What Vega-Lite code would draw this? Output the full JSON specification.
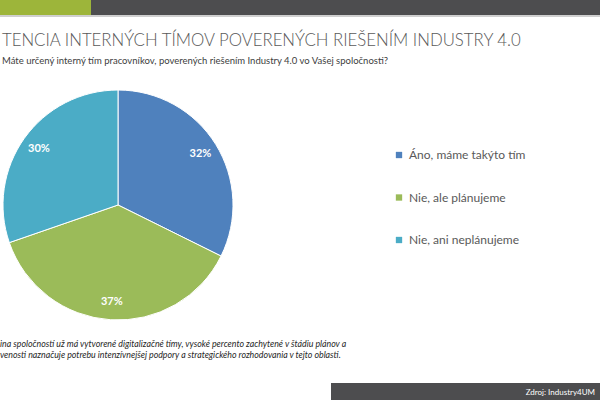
{
  "$schema": "https://vega.github.io/schema/vega-lite/v6.json",
  "width": 600,
  "height": 400,
  "autosize": {"type": "fit", "contains": "padding"},
  "padding": 0,
  "background": "white",
  "config": {"view": {"stroke": null}, "font": "Lato"},
  "datasets": {
    "pie": [
      {"odpoved": "Áno, máme takýto tím", "podiel": 0.32, "poradie": 1},
      {"odpoved": "Nie, ale plánujeme", "podiel": 0.37, "poradie": 2},
      {"odpoved": "Nie, ani neplánujeme", "podiel": 0.30, "poradie": 3}
    ],
    "one": [{}]
  },
  "layer": [
    {
      "data": {"name": "one"},
      "mark": {"type": "rect", "x": 0, "x2": 91, "y": 0, "y2": 15, "color": "#9db53a"},
      "encoding": {}
    },
    {
      "data": {"name": "one"},
      "mark": {"type": "rect", "x": 91, "x2": 600, "y": 0, "y2": 15, "color": "#4d4d4f"},
      "encoding": {}
    },
    {
      "data": {"name": "one"},
      "mark": {"type": "rect", "x": 0, "x2": 600, "y": 15, "y2": 17, "color": "#cfcfcf"},
      "encoding": {}
    },
    {
      "data": {"name": "one"},
      "mark": {"type": "rect", "x": 331, "x2": 600, "y": 383, "y2": 400, "color": "#4d4d4f"},
      "encoding": {}
    },
    {
      "data": {"name": "one"},
      "mark": {"type": "text", "x": 2, "y": 46, "align": "left", "baseline": "alphabetic", "fontSize": 16.8, "fontWeight": 300, "color": "#595959", "text": "TENCIA INTERNÝCH TÍMOV POVERENÝCH RIEŠENÍM INDUSTRY 4.0"},
      "encoding": {}
    },
    {
      "data": {"name": "one"},
      "mark": {"type": "text", "x": 2, "y": 64, "align": "left", "baseline": "alphabetic", "fontSize": 9.5, "color": "#404040", "text": "Máte určený interný tím pracovníkov, poverených riešením Industry 4.0 vo Vašej spoločnosti?"},
      "encoding": {}
    },
    {
      "data": {"name": "one"},
      "mark": {"type": "text", "x": 0, "y": 347, "align": "left", "baseline": "alphabetic", "fontSize": 8.8, "fontStyle": "italic", "color": "#262626", "text": "ina spoločností už má vytvorené digitalizačné tímy, vysoké percento zachytené v štádiu plánov a"},
      "encoding": {}
    },
    {
      "data": {"name": "one"},
      "mark": {"type": "text", "x": 0, "y": 358, "align": "left", "baseline": "alphabetic", "fontSize": 8.8, "fontStyle": "italic", "color": "#262626", "text": "venosti naznačuje potrebu intenzívnejšej podpory a strategického rozhodovania v tejto oblasti."},
      "encoding": {}
    },
    {
      "data": {"name": "one"},
      "mark": {"type": "text", "x": 595, "y": 395, "align": "right", "baseline": "alphabetic", "fontSize": 8, "color": "white", "text": "Zdroj: Industry4UM"},
      "encoding": {}
    },
    {
      "data": {"name": "pie"},
      "mark": {"type": "arc", "x": 118, "y": 205, "outerRadius": 115, "stroke": "white", "strokeWidth": 1},
      "encoding": {
        "theta": {"field": "podiel", "type": "quantitative", "stack": true},
        "order": {"field": "poradie", "type": "quantitative"},
        "color": {
          "field": "odpoved",
          "type": "nominal",
          "sort": ["Áno, máme takýto tím", "Nie, ale plánujeme", "Nie, ani neplánujeme"],
          "scale": {"domain": ["Áno, máme takýto tím", "Nie, ale plánujeme", "Nie, ani neplánujeme"], "range": ["#4f81bd", "#9bbb59", "#4bacc6"]},
          "legend": {
            "title": null,
            "orient": "none",
            "legendX": 393,
            "legendY": 149,
            "symbolType": "square",
            "symbolSize": 40,
            "symbolStrokeWidth": 0,
            "labelFontSize": 12,
            "labelColor": "#595959",
            "labelOffset": 4,
            "rowPadding": 30.5
          }
        }
      }
    },
    {
      "data": {"name": "pie"},
      "mark": {"type": "text", "x": 118, "y": 205, "radius": 97, "fontSize": 11, "fontWeight": "bold", "color": "white"},
      "encoding": {
        "theta": {"field": "podiel", "type": "quantitative", "stack": true},
        "order": {"field": "poradie", "type": "quantitative"},
        "text": {"field": "podiel", "type": "quantitative", "format": ".0%"},
        "detail": {"field": "odpoved"}
      }
    }
  ]
}
